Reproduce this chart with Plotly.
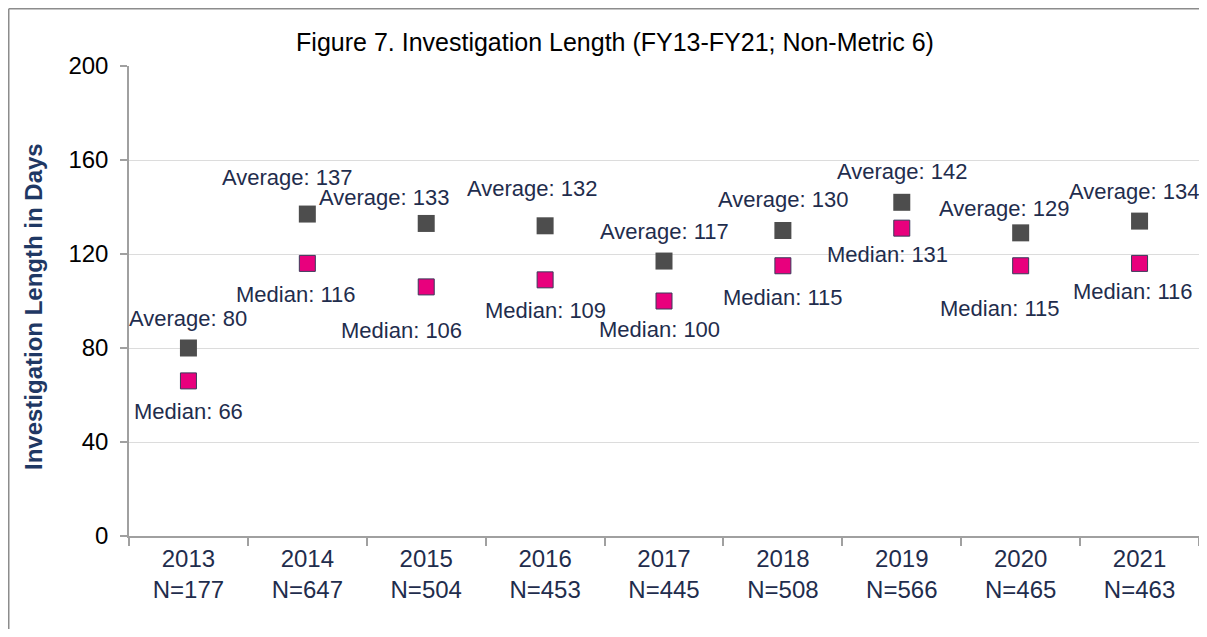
import plotly.graph_objects as go

years = ["2013", "2014", "2015", "2016", "2017", "2018", "2019", "2020", "2021"]
counts = [177, 647, 504, 453, 445, 508, 566, 465, 463]
average = [80, 137, 133, 132, 117, 130, 142, 129, 134]
median = [66, 116, 106, 109, 100, 115, 131, 115, 116]

# label offsets (pixels) for each point's annotation
avg_dx = [0, -20, -42, -13, 0, 0, 0, -17, -6]
avg_dy = [30, 37, 26, 37, 30, 31, 31, 24, 30]
med_dx = [0, -12, -25, 0, -5, 0, -14, -21, -7]
med_dy = [-31, -31, -44, -31, -28, -32, -26, -43, -28]

cats = [f"{y}<br>N={n}" for y, n in zip(years, counts)]

label_color = "#1F2D4D"
FONT = "Liberation Sans, Arial, sans-serif"

# page body has an 8px margin on every side; keep figure inside the window
OFF = 8
W, H = 1207 - 2 * OFF, 637 - 2 * OFF
L, T, R = 129 - OFF, 66 - OFF, 0
PW, PH = W - L - R, 470
B = H - T - PH

fig = go.Figure()
fig.add_trace(go.Scatter(
    x=cats, y=average, mode="markers", name="Average",
    marker=dict(symbol="square", size=17, color="#4D4D4D",
                line=dict(color="#4D4D4D", width=0)),
))
fig.add_trace(go.Scatter(
    x=cats, y=median, mode="markers", name="Median",
    marker=dict(symbol="square", size=16, color="#E8007D",
                line=dict(color="#3A3A5A", width=1)),
))

for i, c in enumerate(cats):
    fig.add_annotation(x=c, y=average[i], text=f"Average: {average[i]}",
                       showarrow=False, xshift=avg_dx[i], yshift=avg_dy[i],
                       font=dict(size=22, color=label_color, family=FONT))
    fig.add_annotation(x=c, y=median[i], text=f"Median: {median[i]}",
                       showarrow=False, xshift=med_dx[i], yshift=med_dy[i],
                       font=dict(size=22, color=label_color, family=FONT))

# y-axis title as a rotated annotation
fig.add_annotation(xref="paper", yref="paper",
                   x=(33 - OFF - L) / PW, y=(T + PH - (307 - OFF)) / PH,
                   text="<b>Investigation Length in Days</b>", textangle=-90,
                   showarrow=False, xanchor="center", yanchor="middle",
                   font=dict(size=24, color="#1F3864", family=FONT))

# outer border (top and left edges visible)
bx = (0.75 - L) / PW
by = (T + PH - 0.75) / PH
fig.add_shape(type="line", xref="paper", yref="paper",
              x0=bx, x1=1.1, y0=by, y1=by,
              line=dict(color="#8C8C8C", width=1.5), layer="below")
fig.add_shape(type="line", xref="paper", yref="paper",
              x0=bx, x1=bx, y0=by, y1=-0.3,
              line=dict(color="#8C8C8C", width=1.5), layer="below")

fig.update_layout(
    width=W, height=H,
    margin=dict(l=L, r=R, t=T, b=B, pad=0),
    paper_bgcolor="white", plot_bgcolor="white",
    showlegend=False,
    font=dict(family=FONT, color="black"),
    title=dict(text="Figure 7. Investigation Length (FY13-FY21; Non-Metric 6)",
               x=(615 - OFF) / W, xanchor="center", xref="container",
               y=1 - (42 - OFF) / H, yanchor="middle", yref="container",
               font=dict(size=25, color="black", family=FONT)),
    xaxis=dict(type="category", range=[-0.5, 8.5],
               showline=True, linecolor="#A0A0A0", linewidth=1.5,
               ticks="outside", tickson="boundaries", ticklen=8,
               tickcolor="#A0A0A0", tickwidth=1.5,
               showgrid=False, zeroline=False,
               tickfont=dict(size=24, color=label_color, family=FONT)),
    yaxis=dict(range=[0, 200], tickvals=[0, 40, 80, 120, 160, 200],
               showline=True, linecolor="#A0A0A0", linewidth=1.5,
               ticks="outside", ticklen=7, tickcolor="#A0A0A0", tickwidth=1.5,
               ticklabelstandoff=7,
               showgrid=True, gridcolor="#DCDCDC", gridwidth=1.2,
               zeroline=False,
               tickfont=dict(size=24, color="black", family=FONT)),
)

fig.write_html("out.html")
